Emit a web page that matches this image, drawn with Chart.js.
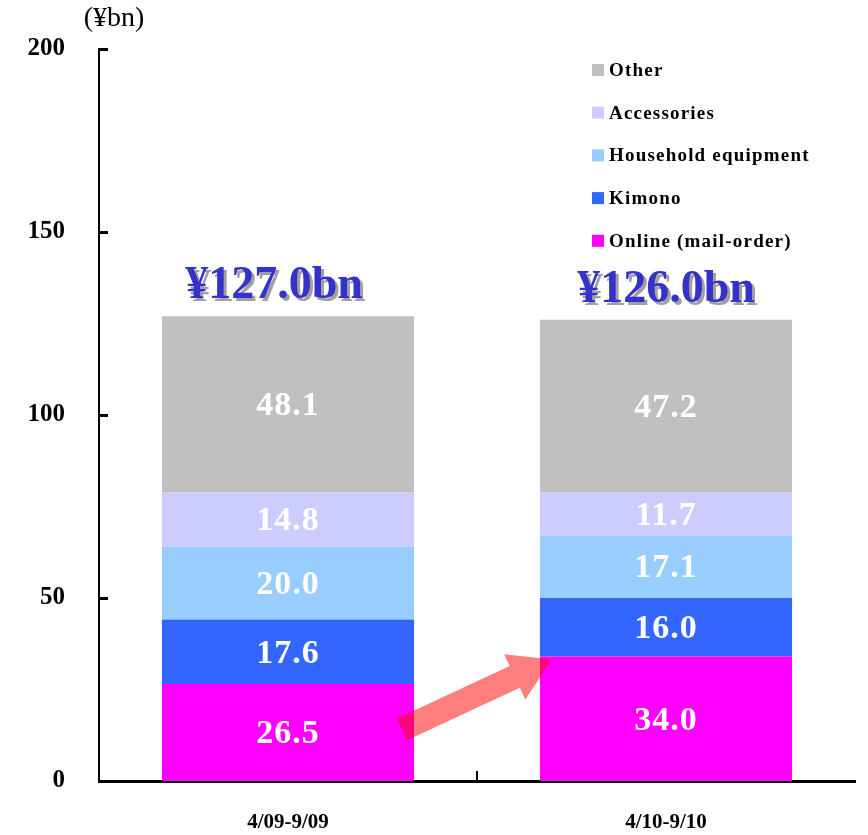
<!DOCTYPE html>
<html>
<head>
<meta charset="utf-8">
<script src="https://cdn.jsdelivr.net/npm/chart.js@4/dist/chart.umd.min.js"></script>
<style>
  html, body { margin: 0; padding: 0; background: #fff; }
  #wrap { width: 868px; height: 835px; }
</style>
</head>
<body>
<div id="wrap"><canvas id="sales-chart" width="868" height="835"></canvas></div>
<script>
var periods = ['4/09-9/09', '4/10-9/10'];
var online = [26.5, 34.0];
var kimono = [17.6, 16.0];
var household = [20.0, 17.1];
var accessories = [14.8, 11.7];
var other = [48.1, 47.2];
var totals = ['¥127.0bn', '¥126.0bn'];
// arrow from the first online segment up to the second one (values on the y scale)
var arrowFrom = 14.1;
var arrowTo = 33.2;

var SERIF = '"Liberation Serif", "Times New Roman", serif';

var segmentLabels = {
    id: 'segmentLabels',
    afterDatasetsDraw: function (chart) {
        var ctx = chart.ctx;
        ctx.save();
        ctx.fillStyle = '#ffffff';
        ctx.font = 'bold 34px ' + SERIF;
        ctx.letterSpacing = '1px';
        ctx.textAlign = 'center';
        ctx.textBaseline = 'middle';
        chart.data.datasets.forEach(function (ds, i) {
            chart.getDatasetMeta(i).data.forEach(function (bar, j) {
                ctx.fillText(ds.data[j].toFixed(1), bar.x, (bar.y + bar.base) / 2 + 2);
            });
        });
        ctx.letterSpacing = '0px';

        // totals above each stack
        var top = chart.getDatasetMeta(chart.data.datasets.length - 1).data;
        ctx.font = 'bold 46px ' + SERIF;
        ctx.textBaseline = 'alphabetic';
        top.forEach(function (bar, j) {
            ctx.fillStyle = '#a0a0a0';
            ctx.fillText(totals[j], bar.x - 14 * (1 - j) + 3, bar.y - 18 + 3);
            ctx.fillStyle = '#3333cc';
            ctx.fillText(totals[j], bar.x - 14 * (1 - j), bar.y - 18);
        });

        // growth arrow
        var m = chart.getDatasetMeta(0).data;
        var y = chart.scales.y;
        var x0 = m[0].x + m[0].width / 2 - 12, y0 = y.getPixelForValue(arrowFrom);
        var x1 = m[1].x - m[1].width / 2 + 12, y1 = y.getPixelForValue(arrowTo);
        var len = Math.hypot(x1 - x0, y1 - y0);
        ctx.translate(x0, y0);
        ctx.rotate(Math.atan2(y1 - y0, x1 - x0));
        ctx.beginPath();
        ctx.moveTo(0, -12);
        ctx.lineTo(len - 41, -12);
        ctx.lineTo(len - 41, -25);
        ctx.lineTo(len, 0);
        ctx.lineTo(len - 41, 25);
        ctx.lineTo(len - 41, 12);
        ctx.lineTo(0, 12);
        ctx.closePath();
        ctx.fillStyle = 'rgba(255, 0, 0, 0.5)';
        ctx.fill();
        ctx.restore();
    },
    afterDraw: function (chart) {
        var ctx = chart.ctx;
        var area = chart.chartArea;
        ctx.save();

        // inner tick marks
        ctx.strokeStyle = '#000';
        ctx.lineWidth = 3;
        chart.scales.y.ticks.forEach(function (t) {
            if (t.value === 0) return;
            var py = Math.round(chart.scales.y.getPixelForValue(t.value)) + 0.5;
            ctx.beginPath();
            ctx.moveTo(area.left, py);
            ctx.lineTo(area.left + 9, py);
            ctx.stroke();
        });
        var mid = (area.left + area.right) / 2;
        ctx.lineWidth = 2;
        ctx.beginPath();
        ctx.moveTo(mid, area.bottom);
        ctx.lineTo(mid, area.bottom - 10);
        ctx.stroke();

        // unit
        ctx.fillStyle = '#000';
        ctx.font = '28px ' + SERIF;
        ctx.textAlign = 'center';
        ctx.textBaseline = 'middle';
        ctx.fillText('(¥bn)', 114, 19);

        // legend, top series first
        ctx.font = 'bold 19px ' + SERIF;
        ctx.letterSpacing = '1.2px';
        ctx.textAlign = 'left';
        var sets = chart.data.datasets.slice().reverse();
        sets.forEach(function (ds, i) {
            var cy = 70 + i * 42.7;
            ctx.fillStyle = ds.backgroundColor;
            ctx.fillRect(592, cy - 6, 12, 12);
            ctx.fillStyle = '#000';
            ctx.fillText(ds.label, 609, cy + 1);
        });
        ctx.restore();
    }
};

var ctx = document.getElementById('sales-chart').getContext('2d');

var salesChart = new Chart(ctx, {
    type: 'bar',
    data: {
        labels: periods,
        datasets: [
            { label: 'Online (mail-order)', data: online, backgroundColor: '#ff00ff' },
            { label: 'Kimono', data: kimono, backgroundColor: '#3366ff' },
            { label: 'Household equipment', data: household, backgroundColor: '#99ccff' },
            { label: 'Accessories', data: accessories, backgroundColor: '#ccccff' },
            { label: 'Other', data: other, backgroundColor: '#c0c0c0' }
        ]
    },
    options: {
        responsive: false,
        animation: false,
        layout: { padding: { top: 46, right: 13, left: 0, bottom: 0 } },
        datasets: {
            bar: { categoryPercentage: 1, barPercentage: 0.667, borderWidth: 0 }
        },
        plugins: {
            legend: { display: false },
            tooltip: { enabled: false }
        },
        scales: {
            x: {
                stacked: true,
                grid: { display: false, drawTicks: false },
                border: { color: '#000', width: 3 },
                ticks: {
                    color: '#000',
                    padding: 29,
                    font: { family: SERIF, size: 21, weight: 'bold' }
                },
                afterFit: function (scale) { scale.height = 54; }
            },
            y: {
                stacked: true,
                min: 0,
                max: 200,
                grid: { display: false, drawTicks: false },
                border: { color: '#000', width: 2 },
                ticks: {
                    stepSize: 50,
                    color: '#000',
                    padding: 34,
                    font: { family: SERIF, size: 25, weight: 'bold' }
                },
                afterFit: function (scale) { scale.width = 99; }
            }
        }
    },
    plugins: [segmentLabels]
});
</script>
</body>
</html>
